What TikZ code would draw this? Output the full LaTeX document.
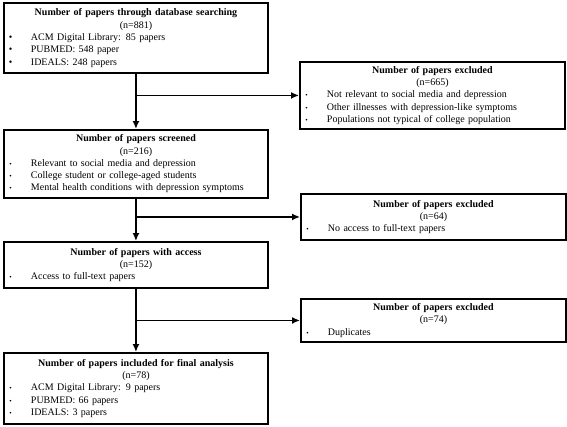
\documentclass[tikz,border=0pt]{standalone}
\usepackage{fontspec}
\setmainfont{Liberation Serif}
\usetikzlibrary{arrows.meta,positioning}

% box contents: bold title, count, then bullet lines
\newcommand{\boxhead}[2]{\centering\textbf{#1}\\(n=#2)\par\raggedright}
\newcommand{\itm}[1]{\par\noindent\makebox[23pt][l]{\hspace{1.5pt}\scalebox{0.7}{\textbullet}}#1}
\newcommand{\itmb}[1]{\par\noindent\makebox[23pt][l]{\hspace{1pt}\textbullet}#1}

\begin{document}
\begin{tikzpicture}[x=1pt,y=1pt,
    stage/.style={draw,line width=1.9pt,anchor=north west,inner xsep=4pt,inner ysep=0pt,
      minimum width=264pt,text width=256pt,font=\fontsize{10}{12.3}\selectfont},
    excl/.style={stage,minimum width=265pt,text width=257pt},
    link/.style={line width=1.5pt,-{Latex[length=8pt,width=7pt]}}]
        \useasboundingbox (0,0) rectangle (567,-426);
        % main flow
        \node[stage,minimum height=70pt] (search) at (3,-2) {\boxhead{Number of papers through database searching}{881}
          \itmb{ACM Digital Library: 85 papers}\itmb{PUBMED: 548 paper}\itmb{IDEALS: 248 papers}};
        \node[stage,minimum height=68pt] (screened) at (3,-129) {\boxhead{Number of papers screened}{216}
          \itm{Relevant to social media and depression}\itm{College student or college-aged students}
          \itm{Mental health conditions with depression symptoms}};
        \node[stage,minimum height=46pt] (access) at (3,-241) {\boxhead{Number of papers with access}{152}
          \itm{Access to full-text papers}};
        \node[stage,minimum height=71pt] (final) at (3,-352) {\boxhead{Number of papers included for final analysis}{78}
          \itm{ACM Digital Library: 9 papers}\itm{PUBMED: 66 papers}\itm{IDEALS: 3 papers}};
        % excluded
        \node[excl,minimum height=67pt] (excl1) at (299,-61) {\boxhead{Number of papers excluded}{665}
          \itm{Not relevant to social media and depression}\itm{Other illnesses with depression-like symptoms}
          \itm{Populations not typical of college population}};
        \node[excl,minimum height=46pt] (excl2) at (300,-193) {\boxhead{Number of papers excluded}{64}
          \itm{No access to full-text papers}};
        \node[excl,minimum height=43pt] (excl3) at (300,-298) {\boxhead{Number of papers excluded}{74}
          \itm{Duplicates}};
        % arrows
        \draw[link] (search.south) -- (screened.north);
        \draw[link] (screened.south) -- (access.north);
        \draw[link] (access.south) -- (final.north);
        \draw[link] (search.south |- excl1.west) -- (excl1.west);
        \draw[link] (screened.south |- excl2.west) -- (excl2.west);
        \draw[link] (access.south |- excl3.west) -- (excl3.west);
      \end{tikzpicture}
\end{document}
